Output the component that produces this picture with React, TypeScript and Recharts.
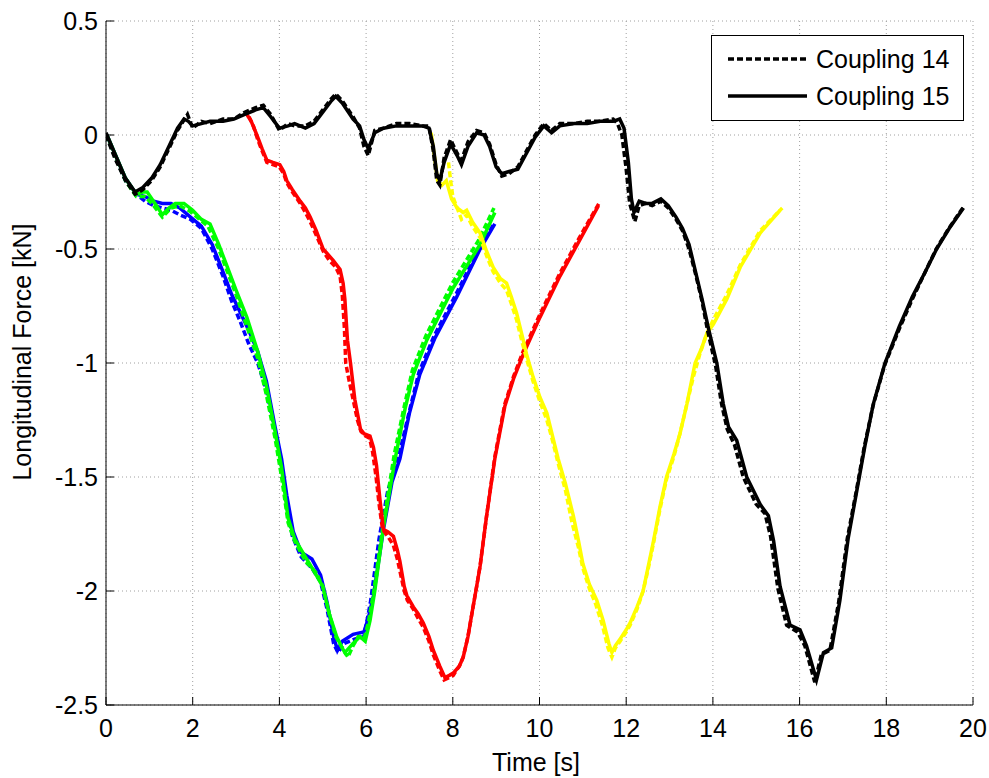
import { CartesianGrid, Label, Legend, Line, LineChart, XAxis, YAxis } from 'recharts';

type Pt = [number, number];

// time [s], longitudinal force [kN]
const blue14: Pt[] = [
  [0, 0], [0.2, -0.09], [0.45, -0.2], [0.7, -0.26], [0.9, -0.29], [1.1, -0.31], [1.3, -0.32], [1.5, -0.33],
  [1.7, -0.35], [1.95, -0.37], [2.2, -0.41], [2.45, -0.5], [2.7, -0.62], [2.9, -0.73], [3.1, -0.82], [3.3, -0.92],
  [3.5, -1.0], [3.7, -1.12], [3.9, -1.3], [4.05, -1.45], [4.17, -1.63], [4.3, -1.76], [4.5, -1.85], [4.75, -1.9],
  [4.95, -1.96], [5.1, -2.08], [5.25, -2.23], [5.35, -2.27], [5.5, -2.23], [5.75, -2.21], [5.95, -2.2], [6.1, -2.05],
  [6.3, -1.77], [6.5, -1.56], [6.75, -1.41], [7.0, -1.21], [7.22, -1.04], [7.57, -0.88], [8.07, -0.7], [8.62, -0.49],
  [8.95, -0.39],
];
const blue15: Pt[] = [
  [0.02, 0], [0.2, -0.08], [0.45, -0.19], [0.7, -0.26], [0.9, -0.27], [1.1, -0.29], [1.3, -0.3], [1.5, -0.3],
  [1.7, -0.32], [1.95, -0.36], [2.2, -0.4], [2.45, -0.48], [2.7, -0.6], [2.9, -0.7], [3.1, -0.78], [3.3, -0.86],
  [3.5, -0.95], [3.7, -1.08], [3.9, -1.28], [4.05, -1.42], [4.17, -1.58], [4.32, -1.74], [4.5, -1.83], [4.75, -1.86],
  [4.95, -1.93], [5.1, -2.05], [5.25, -2.2], [5.34, -2.26], [5.45, -2.22], [5.7, -2.19], [5.95, -2.18], [6.05, -2.12],
  [6.17, -2.02], [6.4, -1.73], [6.6, -1.52], [6.78, -1.42], [7.0, -1.22], [7.24, -1.05], [7.59, -0.89], [8.09, -0.71],
  [8.63, -0.5], [8.97, -0.39],
];
const green14: Pt[] = [
  [0, 0], [0.2, -0.09], [0.45, -0.2], [0.7, -0.27], [0.9, -0.27], [1.1, -0.31], [1.3, -0.36], [1.5, -0.32],
  [1.7, -0.31], [1.9, -0.33], [2.1, -0.36], [2.35, -0.4], [2.6, -0.5], [2.8, -0.6], [3.0, -0.7], [3.25, -0.84],
  [3.5, -0.98], [3.7, -1.14], [3.9, -1.33], [4.05, -1.5], [4.2, -1.7], [4.35, -1.78], [4.6, -1.87], [4.85, -1.92],
  [5.0, -1.98], [5.15, -2.1], [5.3, -2.2], [5.45, -2.25], [5.58, -2.29], [5.7, -2.24], [5.82, -2.2], [5.95, -2.21],
  [6.05, -2.14], [6.17, -2.01], [6.4, -1.7], [6.65, -1.4], [6.88, -1.19], [7.07, -1.03], [7.38, -0.88], [7.99, -0.65],
  [8.6, -0.46], [8.95, -0.32],
];
const green15: Pt[] = [
  [0.02, 0], [0.2, -0.08], [0.45, -0.19], [0.7, -0.26], [0.85, -0.25], [0.95, -0.25], [1.13, -0.3], [1.3, -0.35],
  [1.45, -0.32], [1.6, -0.3], [1.8, -0.3], [2.0, -0.33], [2.2, -0.37], [2.4, -0.39], [2.6, -0.48], [2.8, -0.58],
  [3.0, -0.68], [3.25, -0.8], [3.5, -0.95], [3.7, -1.1], [3.9, -1.3], [4.05, -1.46], [4.2, -1.68], [4.35, -1.77],
  [4.6, -1.85], [4.85, -1.93], [5.0, -1.98], [5.15, -2.1], [5.32, -2.2], [5.45, -2.25], [5.51, -2.27], [5.7, -2.23],
  [5.86, -2.2], [5.98, -2.22], [6.09, -2.13], [6.2, -2.0], [6.4, -1.72], [6.67, -1.42], [6.9, -1.2], [7.09, -1.05],
  [7.4, -0.9], [8.01, -0.67], [8.63, -0.48], [8.97, -0.34],
];
const red14: Pt[] = [
  [3.3, 0.08], [3.4, 0.04], [3.5, -0.02], [3.6, -0.07], [3.71, -0.12], [3.85, -0.13], [4.0, -0.14], [4.1, -0.17],
  [4.17, -0.21], [4.3, -0.25], [4.48, -0.3], [4.6, -0.34], [4.71, -0.38], [4.85, -0.44], [5.01, -0.51], [5.15, -0.55],
  [5.3, -0.58], [5.4, -0.62], [5.45, -0.7], [5.5, -0.85], [5.53, -1.0], [5.6, -1.07], [5.7, -1.16], [5.8, -1.25],
  [5.88, -1.3], [5.98, -1.32], [6.08, -1.33], [6.15, -1.39], [6.23, -1.5], [6.3, -1.62], [6.38, -1.73], [6.5, -1.76],
  [6.63, -1.8], [6.72, -1.86], [6.8, -1.93], [6.88, -2.0], [6.95, -2.04], [7.09, -2.08], [7.2, -2.12], [7.32, -2.16],
  [7.45, -2.22], [7.55, -2.28], [7.7, -2.35], [7.8, -2.39], [7.92, -2.38], [8.01, -2.37], [8.15, -2.33], [8.24, -2.29],
  [8.35, -2.2], [8.44, -2.1], [8.55, -1.98], [8.63, -1.89], [8.78, -1.67], [8.97, -1.41], [9.2, -1.18], [9.4, -1.06],
  [9.62, -0.95], [10.0, -0.79], [10.46, -0.61], [10.92, -0.45], [11.4, -0.29],
];
const red15: Pt[] = [
  [3.25, 0.09], [3.35, 0.06], [3.48, 0.0], [3.6, -0.06], [3.71, -0.11], [3.85, -0.12], [4.01, -0.13], [4.1, -0.16],
  [4.17, -0.2], [4.3, -0.24], [4.48, -0.29], [4.6, -0.32], [4.71, -0.36], [4.85, -0.42], [5.01, -0.5], [5.24, -0.55],
  [5.4, -0.59], [5.47, -0.65], [5.51, -0.72], [5.57, -0.9], [5.64, -1.0], [5.74, -1.16], [5.87, -1.29], [5.95, -1.31],
  [6.09, -1.32], [6.17, -1.37], [6.24, -1.45], [6.32, -1.6], [6.4, -1.73], [6.5, -1.74], [6.63, -1.76], [6.72, -1.82],
  [6.78, -1.87], [6.88, -1.98], [6.94, -2.02], [7.09, -2.07], [7.2, -2.1], [7.32, -2.14], [7.45, -2.2], [7.55, -2.26],
  [7.7, -2.33], [7.82, -2.38], [7.92, -2.37], [8.01, -2.36], [8.15, -2.33], [8.24, -2.29], [8.35, -2.2], [8.44, -2.1],
  [8.55, -1.98], [8.63, -1.89], [8.78, -1.67], [8.97, -1.42], [9.2, -1.19], [9.4, -1.07], [9.63, -0.96],
  [10.01, -0.8], [10.47, -0.62], [10.93, -0.46], [11.36, -0.31],
];
const yellow14: Pt[] = [
  [7.9, -0.12], [7.95, -0.2], [8.0, -0.27], [8.1, -0.32], [8.2, -0.37], [8.32, -0.35], [8.45, -0.4], [8.63, -0.45],
  [8.78, -0.53], [8.93, -0.6], [9.1, -0.65], [9.24, -0.68], [9.35, -0.74], [9.47, -0.81], [9.6, -0.91], [9.7, -0.98],
  [9.85, -1.08], [10.01, -1.17], [10.17, -1.25], [10.3, -1.34], [10.43, -1.44], [10.6, -1.56], [10.75, -1.7],
  [10.9, -1.81], [11.0, -1.9], [11.15, -1.99], [11.3, -2.06], [11.45, -2.15], [11.58, -2.25], [11.67, -2.29],
  [11.75, -2.25], [11.86, -2.22], [12.0, -2.18], [12.09, -2.15], [12.25, -2.08], [12.39, -2.0], [12.5, -1.91],
  [12.63, -1.79], [12.78, -1.64], [12.93, -1.51], [13.1, -1.41], [13.24, -1.31], [13.4, -1.18], [13.55, -1.06],
  [13.7, -0.96], [13.86, -0.87], [14.01, -0.81], [14.32, -0.7], [14.63, -0.57], [15.09, -0.42], [15.6, -0.32],
];
const yellow15: Pt[] = [
  [7.5, 0.01], [7.58, -0.1], [7.65, -0.2], [7.75, -0.22], [7.85, -0.2], [7.97, -0.28], [8.1, -0.32], [8.24, -0.34],
  [8.32, -0.33], [8.45, -0.38], [8.63, -0.43], [8.78, -0.51], [8.93, -0.58], [9.1, -0.63], [9.24, -0.65],
  [9.35, -0.71], [9.47, -0.78], [9.6, -0.88], [9.7, -0.96], [9.85, -1.06], [10.01, -1.15], [10.17, -1.22],
  [10.3, -1.32], [10.43, -1.42], [10.6, -1.53], [10.78, -1.67], [10.9, -1.78], [11.0, -1.88], [11.15, -1.97],
  [11.32, -2.04], [11.47, -2.13], [11.6, -2.23], [11.67, -2.27], [11.75, -2.24], [11.86, -2.21], [12.0, -2.17],
  [12.09, -2.14], [12.25, -2.07], [12.39, -2.0], [12.5, -1.9], [12.63, -1.78], [12.78, -1.63], [12.93, -1.5],
  [13.1, -1.4], [13.24, -1.31], [13.4, -1.18], [13.59, -1.0], [13.73, -0.94], [13.86, -0.87], [14.01, -0.83],
  [14.32, -0.72], [14.63, -0.58], [15.09, -0.43], [15.55, -0.33],
];
const black14: Pt[] = [
  [0, 0], [0.2, -0.1], [0.45, -0.2], [0.67, -0.26], [0.85, -0.24], [1.05, -0.2], [1.25, -0.14], [1.45, -0.06],
  [1.65, 0.02], [1.78, 0.06], [1.88, 0.09], [2.0, 0.03], [2.2, 0.06], [2.4, 0.05], [2.7, 0.07], [2.95, 0.07],
  [3.2, 0.1], [3.45, 0.12], [3.63, 0.13], [3.8, 0.09], [4.0, 0.02], [4.2, 0.05], [4.35, 0.04], [4.6, 0.04],
  [4.8, 0.06], [5.0, 0.11], [5.2, 0.16], [5.3, 0.18], [5.45, 0.15], [5.7, 0.08], [5.85, 0.03], [5.95, -0.05],
  [6.05, -0.09], [6.2, 0.02], [6.4, 0.03], [6.7, 0.05], [7.0, 0.05], [7.3, 0.04], [7.45, 0.04], [7.55, -0.07],
  [7.63, -0.2], [7.7, -0.22], [7.8, -0.1], [7.95, -0.02], [8.1, -0.08], [8.2, -0.11], [8.35, -0.03], [8.55, 0.02],
  [8.72, 0.01], [8.85, -0.04], [9.0, -0.13], [9.13, -0.18], [9.3, -0.17], [9.5, -0.14], [9.7, -0.07], [9.9, 0.0],
  [10.1, 0.05], [10.28, 0.02], [10.47, 0.05], [10.8, 0.05], [11.1, 0.06], [11.4, 0.06], [11.7, 0.07], [11.8, 0.05],
  [11.9, 0.0], [12.0, -0.15], [12.08, -0.3], [12.2, -0.38], [12.3, -0.31], [12.45, -0.3], [12.6, -0.31],
  [12.8, -0.29], [12.97, -0.32], [13.15, -0.37], [13.3, -0.42], [13.45, -0.5], [13.6, -0.61], [13.75, -0.73],
  [13.88, -0.86], [14.06, -1.01], [14.2, -1.18], [14.33, -1.29], [14.5, -1.36], [14.7, -1.5], [15.0, -1.62],
  [15.2, -1.66], [15.33, -1.76], [15.5, -1.99], [15.7, -2.15], [15.95, -2.18], [16.12, -2.24], [16.35, -2.4],
  [16.5, -2.28], [16.7, -2.26], [16.9, -2.05], [17.1, -1.77], [17.3, -1.57], [17.49, -1.37], [17.69, -1.19],
  [17.96, -1.01], [18.3, -0.85], [18.6, -0.72], [18.9, -0.6], [19.15, -0.5], [19.44, -0.41], [19.8, -0.31],
];
const black15: Pt[] = [
  [0, 0.01], [0.2, -0.08], [0.45, -0.19], [0.67, -0.25], [0.85, -0.23], [1.05, -0.19], [1.25, -0.13], [1.45, -0.05],
  [1.65, 0.03], [1.8, 0.07], [1.9, 0.06], [2.0, 0.04], [2.2, 0.05], [2.4, 0.06], [2.7, 0.06], [2.95, 0.07],
  [3.2, 0.09], [3.45, 0.11], [3.63, 0.12], [3.8, 0.08], [4.0, 0.03], [4.2, 0.04], [4.35, 0.05], [4.6, 0.03],
  [4.8, 0.05], [5.0, 0.1], [5.2, 0.15], [5.3, 0.17], [5.45, 0.14], [5.7, 0.07], [5.85, 0.04], [5.95, -0.02],
  [6.05, -0.06], [6.2, 0.01], [6.4, 0.03], [6.7, 0.04], [7.0, 0.04], [7.3, 0.04], [7.45, 0.03], [7.55, -0.05],
  [7.63, -0.17], [7.7, -0.2], [7.8, -0.12], [7.95, -0.04], [8.1, -0.09], [8.2, -0.13], [8.35, -0.05], [8.55, 0.01],
  [8.72, 0.0], [8.85, -0.05], [9.0, -0.14], [9.13, -0.17], [9.3, -0.16], [9.5, -0.15], [9.7, -0.08], [9.9, -0.01],
  [10.1, 0.04], [10.28, 0.01], [10.47, 0.04], [10.8, 0.05], [11.1, 0.05], [11.4, 0.06], [11.7, 0.06], [11.85, 0.07],
  [11.95, 0.03], [12.05, -0.12], [12.12, -0.28], [12.18, -0.34], [12.3, -0.29], [12.45, -0.3], [12.6, -0.3],
  [12.8, -0.28], [12.97, -0.31], [13.15, -0.36], [13.3, -0.41], [13.45, -0.48], [13.6, -0.6], [13.75, -0.72],
  [13.9, -0.85], [14.09, -1.0], [14.24, -1.18], [14.36, -1.28], [14.55, -1.34], [14.78, -1.5], [15.09, -1.62],
  [15.28, -1.67], [15.4, -1.78], [15.55, -1.98], [15.78, -2.15], [16.01, -2.17], [16.16, -2.24], [16.39, -2.39],
  [16.55, -2.27], [16.74, -2.25], [16.93, -2.04], [17.12, -1.77], [17.32, -1.56], [17.51, -1.36], [17.7, -1.18],
  [17.97, -1.0], [18.3, -0.84], [18.6, -0.71], [18.9, -0.6], [19.16, -0.5], [19.45, -0.41], [19.78, -0.32],
];

const timeTicks = [0, 2, 4, 6, 8, 10, 12, 14, 16, 18, 20];
const forceTicks = [-2.5, -2, -1.5, -1, -0.5, 0, 0.5];
const legendLabels = ['Coupling 14', 'Coupling 15'];

const FONT = '"Liberation Sans", Arial, sans-serif';

const toRows = (pts: Pt[]) => pts.map(([t, f]) => ({ t, f }));

const series = [
  { name: 'blue14', pts: blue14, color: '#0000ff', dashed: true },
  { name: 'blue15', pts: blue15, color: '#0000ff', dashed: false },
  { name: 'green14', pts: green14, color: '#00ff00', dashed: true },
  { name: 'green15', pts: green15, color: '#00ff00', dashed: false },
  { name: 'red14', pts: red14, color: '#ff0000', dashed: true },
  { name: 'red15', pts: red15, color: '#ff0000', dashed: false },
  { name: 'yellow14', pts: yellow14, color: '#ffff00', dashed: true },
  { name: 'yellow15', pts: yellow15, color: '#ffff00', dashed: false },
  { name: 'black14', pts: black14, color: '#000000', dashed: true },
  { name: 'black15', pts: black15, color: '#000000', dashed: false },
];

const XTick = ({ x, y, payload }: any) => (
  <g>
    <line x1={x} y1={y} x2={x} y2={y - 8} stroke="#000" />
    <text x={x} y={y + 32} textAnchor="middle" fontSize={25} fontFamily={FONT} fill="#000">
      {payload.value}
    </text>
  </g>
);

const YTick = ({ x, y, payload }: any) => (
  <g>
    <line x1={x} y1={y} x2={x + 8} y2={y} stroke="#000" />
    <text x={x - 8} y={y + 9} textAnchor="end" fontSize={25} fontFamily={FONT} fill="#000">
      {payload.value}
    </text>
  </g>
);

const LegendBox = () => (
  <svg width={253} height={86} style={{ display: 'block' }}>
    <rect x={0.5} y={0.5} width={252} height={85} fill="#fff" stroke="#000" />
    {legendLabels.map((label, i) => (
      <g key={label}>
        <line
          x1={17}
          x2={96}
          y1={24 + i * 37}
          y2={24 + i * 37}
          stroke="#000"
          strokeWidth={3.5}
          strokeDasharray={i === 0 ? '6 3' : undefined}
        />
        <text x={105} y={33 + i * 37} fontSize={25} fontFamily={FONT} fill="#000">
          {label}
        </text>
      </g>
    ))}
  </svg>
);

export default function App() {
  return (
    <div style={{ position: 'absolute', left: 0, top: 0, background: '#fff' }}>
      <LineChart width={989} height={778} margin={{ top: 21, right: 16, bottom: 0, left: 0 }}>
        <CartesianGrid stroke="#a0a0a0" strokeDasharray="1 3" />
        {series.map((s) => (
          <Line
            key={s.name}
            data={toRows(s.pts)}
            dataKey="f"
            type="linear"
            stroke={s.color}
            strokeWidth={3.5}
            strokeDasharray={s.dashed ? '6 3' : undefined}
            dot={false}
            activeDot={false}
            isAnimationActive={false}
          />
        ))}
        <XAxis
          dataKey="t"
          type="number"
          domain={[0, 20]}
          ticks={timeTicks}
          interval={0}
          allowDataOverflow
          height={73}
          tickSize={0}
          tickMargin={0}
          tickLine={false}
          axisLine={{ stroke: '#000' }}
          tick={<XTick />}
        >
          <Label
            content={() => (
              <text x={536} y={771} textAnchor="middle" fontSize={25} fontFamily={FONT} fill="#000">
                Time [s]
              </text>
            )}
          />
        </XAxis>
        <YAxis
          type="number"
          domain={[-2.5, 0.5]}
          ticks={forceTicks}
          interval={0}
          allowDataOverflow
          width={106}
          tickSize={0}
          tickMargin={0}
          tickLine={false}
          axisLine={{ stroke: '#000' }}
          tick={<YTick />}
        >
          <Label
            content={() => (
              <text
                x={31}
                y={352}
                transform="rotate(-90 31 352)"
                textAnchor="middle"
                fontSize={25}
                fontFamily={FONT}
                fill="#000"
              >
                Longitudinal Force [kN]
              </text>
            )}
          />
        </YAxis>
        <Legend
          layout="horizontal"
          verticalAlign="middle"
          content={() => <LegendBox />}
          wrapperStyle={{ left: 711, top: 35, width: 253, height: 86 }}
        />
      </LineChart>
    </div>
  );
}
